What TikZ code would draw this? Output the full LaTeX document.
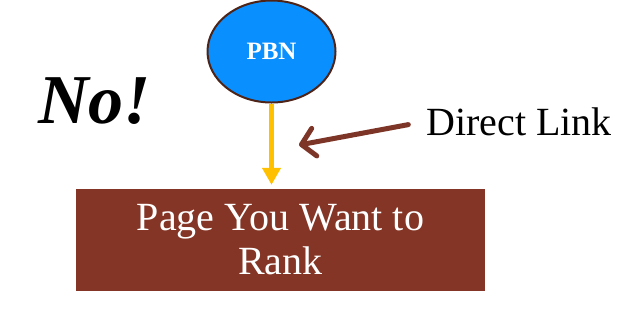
\documentclass[tikz,border=0pt]{standalone}
\usepackage{fontspec}
\setmainfont{Liberation Serif}
\usetikzlibrary{arrows.meta,shapes.geometric}
\definecolor{boxbrown}{HTML}{843525}
\definecolor{pbnblue}{HTML}{0A8FFF}
\definecolor{edgebrown}{HTML}{4E2418}
\definecolor{linkyellow}{HTML}{FFC000}
\definecolor{arrowbrown}{HTML}{7D3527}
\tikzset{
  pbnnode/.style={ellipse, draw=edgebrown, line width=2pt, fill=pbnblue,
    minimum width=128pt, minimum height=102pt, inner sep=0pt,
    text=white, font=\fontsize{25}{27}\selectfont\bfseries},
  pagebox/.style={rectangle, fill=boxbrown, minimum width=409pt, minimum height=102pt,
    inner sep=0pt, text=white, align=center, font=\fontsize{40}{44}\selectfont},
  yellowlink/.style={draw=linkyellow, line width=4.5pt,
    -{Triangle[length=17pt,width=18pt]}, shorten >=4pt},
  brownpointer/.style={draw=arrowbrown, line width=5pt, line cap=round,
    -{Straight Barb[length=13pt,width=28pt,round]}},
  labeltext/.style={inner sep=0pt, font=\fontsize{40}{44}\selectfont},
  notext/.style={inner sep=0pt, font=\fontsize{70}{74}\selectfont\bfseries\itshape}
}
\begin{document}
\begin{tikzpicture}[x=1pt,y=-1pt]
\useasboundingbox (0,0) rectangle (636,309);
\node[pbnnode] (pbn) at (271.5,51.5) {PBN};
\node[pagebox] (page) at (280.5,240) {Page You Want to\\Rank};
\node[labeltext, anchor=base west] (direct) at (426,135) {Direct Link};
\node[notext, anchor=base west] (no) at (38,123) {No!};
\coordinate (tip) at (299,145);
\draw[yellowlink] (pbn.south) -- (pbn.south |- page.north);
\draw[brownpointer, shorten <=18pt] (direct.west) -- (tip);
\end{tikzpicture}
\end{document}
